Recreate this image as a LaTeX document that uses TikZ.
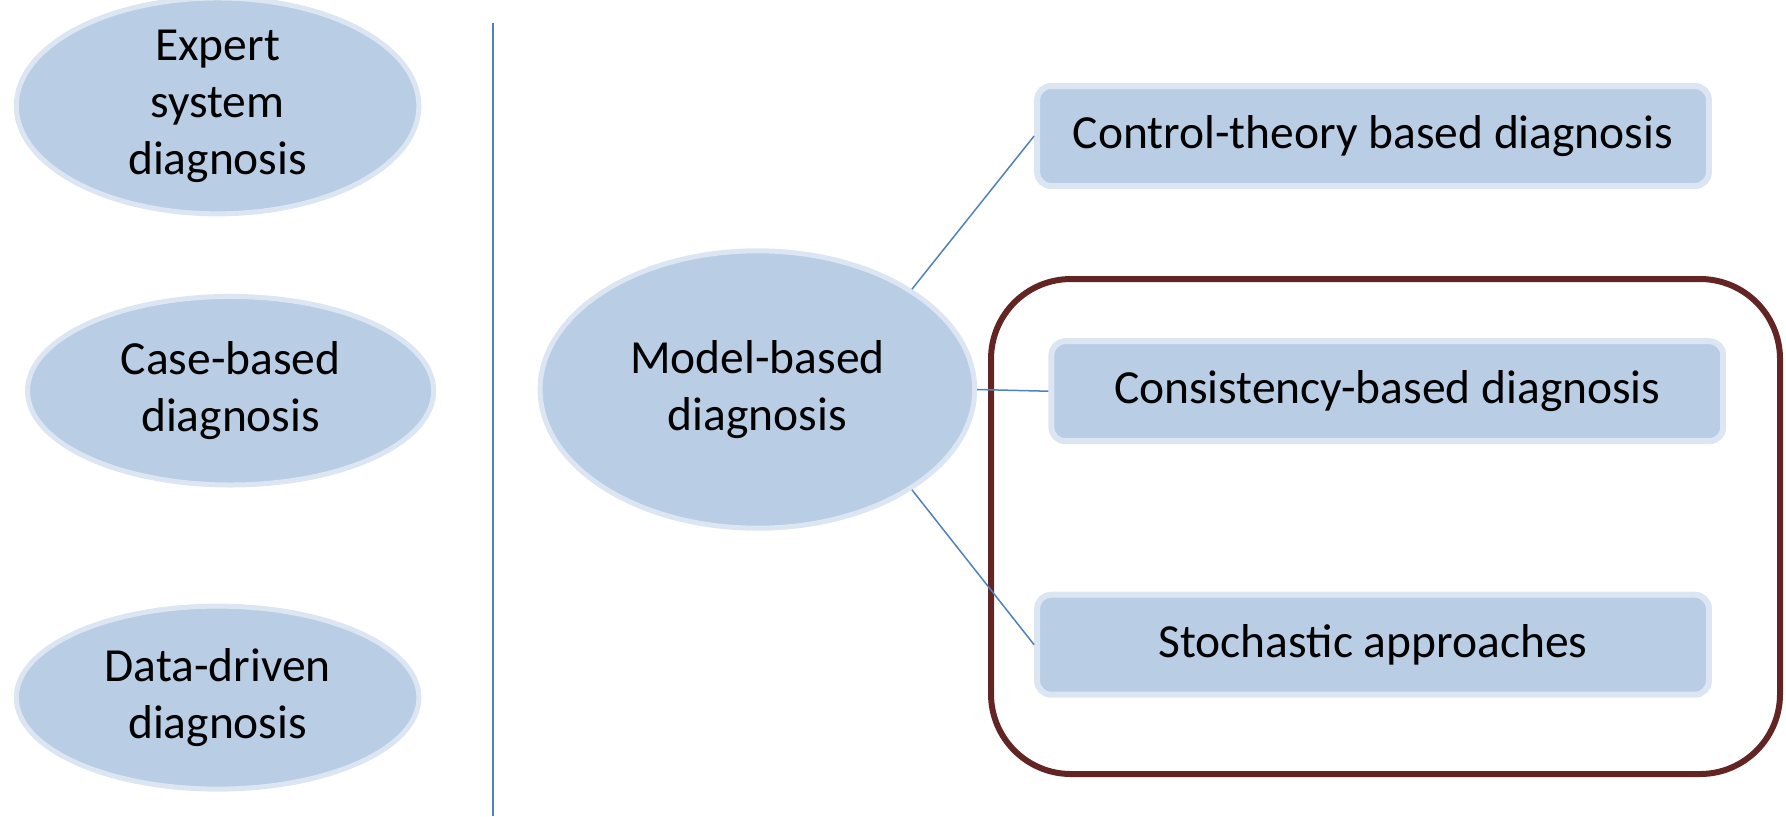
\documentclass[tikz,border=0pt]{standalone}
\usepackage{fontspec}
\setmainfont{Carlito}
\usetikzlibrary{shapes.geometric}
\definecolor{nodefill}{HTML}{B9CDE5}
\definecolor{nodeedge}{HTML}{DCE6F2}
\definecolor{linkblue}{HTML}{4F81BD}
\definecolor{groupred}{HTML}{632523}
\tikzset{
  lbl/.style={font=\fontsize{23.75}{28.5}\selectfont, align=center, text=black},
  oval/.style={lbl, ellipse, fill=nodefill, draw=nodeedge, line width=2.5pt, inner sep=0pt},
  rbox/.style={lbl, rectangle, rounded corners=7pt, fill=nodefill, draw=nodeedge, line width=3pt, minimum width=335.9pt, minimum height=50pt, inner sep=0pt},
  link/.style={draw=linkblue, line width=0.75pt},
}
\begin{document}
\begin{tikzpicture}[x=0.5pt, y=-0.5pt]
\useasboundingbox (0,0) rectangle (1786,816);
% group frame
\draw[groupred, line width=3pt, rounded corners=40pt] (991,279) rectangle (1780,774);
% left column
\node[oval, minimum width=201.3pt, minimum height=94.3pt] (expert) at (217.6,105.9) {Expert\\system\\diagnosis};
\node[oval, minimum width=203.1pt, minimum height=94.3pt] (case) at (230.6,390.7) {Case-based\\diagnosis};
\node[oval, minimum width=201.3pt, minimum height=91.5pt] (data) at (217.6,697.6) {Data-driven\\diagnosis};
% separator
\coordinate (septop) at (493,23);
\coordinate (sepbot) at (493,816);
\draw[linkblue, line width=1.3pt] (septop) -- (sepbot);
% model-based
\node[oval, minimum width=217.3pt, minimum height=138.7pt] (model) at (757.4,389.5) {Model-based\\diagnosis};
\node[rbox] (ctrl) at (1373,136) {Control-theory based diagnosis};
\node[rbox] (cons) at (1387.3,391.2) {Consistency-based diagnosis};
\node[rbox] (stoch) at (1373,644.7) {Stochastic approaches};
\draw[link] (model.33) -- (ctrl.west);
\draw[link] (model.east) -- (cons.west);
\draw[link] (model.-33) -- (stoch.west);
\end{tikzpicture}
\end{document}
